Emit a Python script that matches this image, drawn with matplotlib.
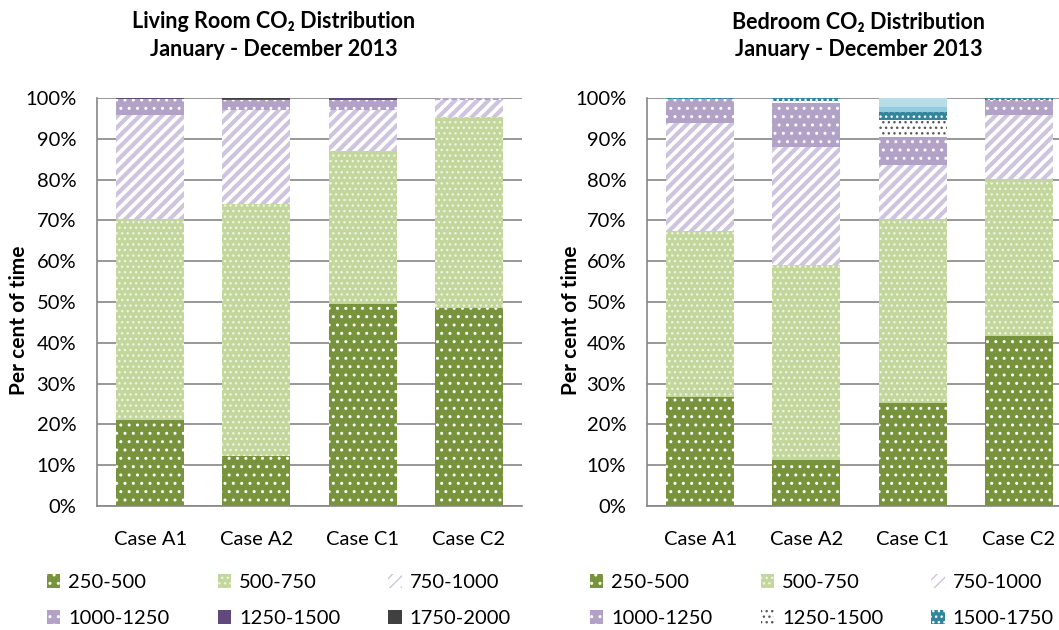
import matplotlib
matplotlib.use("Agg")
import matplotlib.pyplot as plt
from matplotlib.patches import Patch
import numpy as np

plt.rcParams['font.family'] = ['Lato', 'DejaVu Sans']
plt.rcParams['hatch.linewidth'] = 1.0

cases = ["Case A1", "Case A2", "Case C1", "Case C2"]

# Living room CO2 bands (per cent of time)
living_labels = ["250-500", "500-750", "750-1000", "1000-1250", "1250-1500", "1750-2000"]
living_250_500 = [21.2, 12.3, 49.4, 48.5]
living_500_750 = [49.2, 61.7, 37.6, 46.8]
living_750_1000 = [25.4, 23.0, 10.0, 4.1]
living_1000_1250 = [3.9, 2.5, 2.5, 0.5]
living_1250_1500 = [0.3, 0.3, 0.5, 0.1]
living_1750_2000 = [0.0, 0.2, 0.0, 0.0]

# Bedroom CO2 bands (per cent of time)
bed_labels = ["250-500", "500-750", "750-1000", "1000-1250", "1250-1500", "1500-1750", "1750-2000", ">2000"]
bed_250_500 = [26.8, 11.2, 25.2, 41.7]
bed_500_750 = [40.5, 47.8, 45.1, 38.4]
bed_750_1000 = [26.6, 29.0, 13.3, 15.7]
bed_1000_1250 = [5.8, 10.8, 6.8, 3.8]
bed_1250_1500 = [0.0, 0.5, 4.2, 0.0]
bed_1500_1750 = [0.3, 0.7, 2.0, 0.4]
bed_1750_2000 = [0.0, 0.0, 1.3, 0.0]
bed_over_2000 = [0.0, 0.0, 2.1, 0.0]

# style per band: (face, hatch colour, hatch, hatch linewidth)
styles = {
    "250-500": ("#77933C", "#FFFFFF", "..", 1.0),
    "500-750": ("#C3D69B", "#EEF4E2", "...", 1.0),
    "750-1000": ("#FFFFFF", "#CEC4DD", "///", 3.0),
    "1000-1250": ("#B3A2C7", "#FFFFFF", "..", 1.0),
    "1250-1500_l": ("#604A7B", "#604A7B", "", 1.0),
    "1250-1500_b": ("#FFFFFF", "#595959", "...", 1.0),
    "1500-1750": ("#31859C", "#FFFFFF", "...", 1.0),
    "1750-2000_l": ("#404040", "#404040", "", 1.0),
    "1750-2000_b": ("#93CDDD", "#93CDDD", "", 1.0),
    ">2000": ("#B7DEE8", "#B7DEE8", "", 1.0),
}

W, H = 1059, 630
fig = plt.figure(figsize=(W / 100, H / 100), dpi=100)

GRID = "#868686"
TICK_FS = 14.5
TITLE_FS = 15.5

def set_hlw(artist, lw):
    try:
        artist.set_hatch_linewidth(lw)
    except Exception:
        pass

def make_axes(x0px):
    ax = fig.add_axes([x0px / W, (H - 506) / H, 425 / W, 408 / H])
    ax.set_ylim(0, 100)
    ax.set_xlim(-0.5, 3.5)
    ax.set_yticks(np.arange(0, 101, 10))
    ax.set_yticklabels([f"{v}%" for v in range(0, 101, 10)])
    ax.set_xticks(range(4))
    ax.set_xticklabels(cases)
    ax.tick_params(axis='both', length=0, labelsize=TICK_FS, colors="#000000")
    ax.tick_params(axis='y', pad=15)
    ax.tick_params(axis='x', pad=18)
    ax.yaxis.grid(True, color=GRID, linewidth=1.2)
    ax.set_axisbelow(True)
    for s in ["top", "right"]:
        ax.spines[s].set_visible(False)
    for s in ["left", "bottom"]:
        ax.spines[s].set_color(GRID)
        ax.spines[s].set_linewidth(1.2)
    return ax

def stack(ax, series, keys):
    x = np.arange(4)
    bottom = np.zeros(4)
    handles = []
    for vals, key in zip(series, keys):
        face, hc, hatch, hlw = styles[key]
        vals = np.array(vals, dtype=float)
        bars = ax.bar(x, vals, bottom=bottom, width=0.64, color=face, edgecolor=hc,
                      hatch=hatch, linewidth=0, zorder=2)
        for b in bars:
            set_hlw(b, hlw)
        bottom += vals
        p = Patch(facecolor=face, edgecolor=hc, hatch=hatch, linewidth=0)
        set_hlw(p, hlw)
        handles.append(p)
    return handles

# Left chart
axL = make_axes(97)
hl = stack(axL, [living_250_500, living_500_750, living_750_1000, living_1000_1250,
                 living_1250_1500, living_1750_2000],
           ["250-500", "500-750", "750-1000", "1000-1250", "1250-1500_l", "1750-2000_l"])

# Right chart
axR = make_axes(647)
hr = stack(axR, [bed_250_500, bed_500_750, bed_750_1000, bed_1000_1250,
                 bed_1250_1500, bed_1500_1750, bed_1750_2000, bed_over_2000],
           ["250-500", "500-750", "750-1000", "1000-1250", "1250-1500_b", "1500-1750",
            "1750-2000_b", ">2000"])

# Titles
for cx, room in [(274, "Living Room"), (859, "Bedroom")]:
    fig.text(cx / W, 1 - 22 / H, f"{room} CO₂ Distribution", ha='center', va='center',
             fontsize=TITLE_FS, fontweight='bold')
    fig.text(cx / W, 1 - 50 / H, "January - December 2013", ha='center', va='center',
             fontsize=TITLE_FS, fontweight='bold')

# Y labels
for xpx in (19, 571):
    fig.text(xpx / W, 1 - 320 / H, "Per cent of time", rotation=90, ha='center', va='center',
             fontsize=15, fontweight='bold')

def reorder(items):
    # row-wise order for a 3-column legend
    return [items[0], items[3], items[1], items[4], items[2], items[5]]

legkw = dict(ncol=3, frameon=False, fontsize=TICK_FS, handlelength=0.65, handleheight=0.65,
             handletextpad=0.4, columnspacing=2.4, labelspacing=0.95, borderpad=0,
             borderaxespad=0)
fig.legend(reorder(hl), reorder(living_labels), loc='upper left',
           bbox_to_anchor=(47 / W, 1 - 574 / H), **legkw)
fig.legend(reorder(hr[:6]), reorder(bed_labels[:6]), loc='upper left',
           bbox_to_anchor=(590 / W, 1 - 574 / H), **legkw)

fig.savefig("out.png", dpi=100)
